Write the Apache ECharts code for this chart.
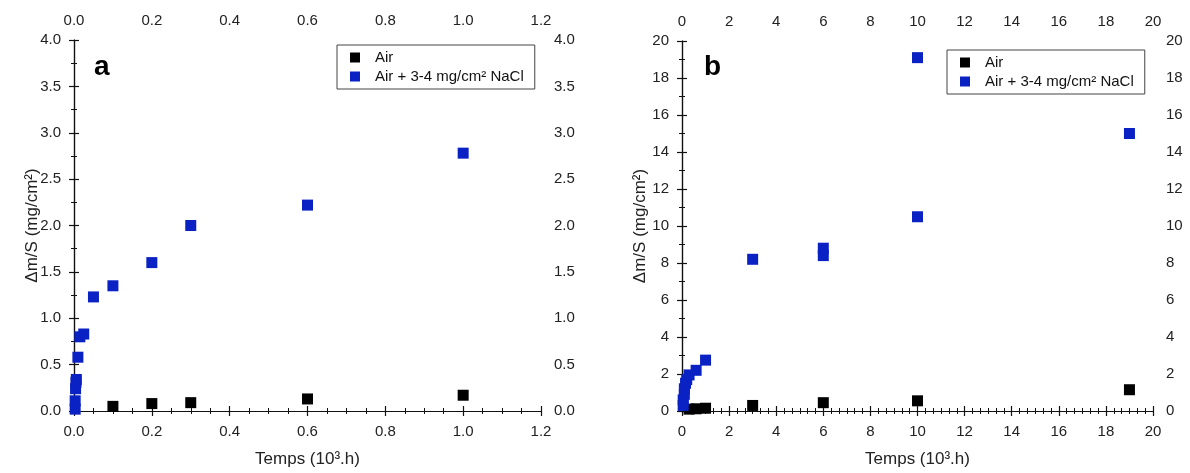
<!DOCTYPE html>
<html><head><meta charset="utf-8">
<script src="https://cdn.jsdelivr.net/npm/echarts@6/dist/echarts.min.js"></script>
<style>html,body{margin:0;background:#fff}#c{width:1190px;height:473px}</style>
</head><body><div id="c"></div>
<script>
// Panel a
const airA = [[0.1,0.05],[0.2,0.08],[0.3,0.09],[0.6,0.13],[1.0,0.17]];
const naclA = [[0.003,0.02],[0.003,0.11],[0.004,0.24],[0.005,0.31],[0.006,0.34],[0.01,0.58],[0.015,0.80],[0.025,0.83],[0.05,1.23],[0.1,1.35],[0.2,1.60],[0.3,2.00],[0.6,2.22],[1.0,2.78]];
// Panel b
const airB = [[0.3,0.10],[0.6,0.12],[1.0,0.15],[3,0.30],[6,0.45],[10,0.55],[19,1.15]];
const naclB = [[0.05,0.3],[0.05,0.6],[0.1,0.9],[0.1,1.2],[0.15,1.5],[0.2,1.7],[0.3,1.95],[0.6,2.2],[1.0,2.75],[3,8.2],[6,8.4],[6,8.8],[10,10.5],[10,19.1],[19,15.0]];
const seriesNames = ['Air', 'Air + 3-4 mg/cm² NaCl'];
const xTitle = 'Temps (10³.h)';
const yTitle = 'Δm/S (mg/cm²)';

const FONT = "'Liberation Sans', Arial, sans-serif";
const BLUE = '#0a22c4';
const lineS = {show:true, lineStyle:{color:'#111', width:1.2}};
const tickS = {show:true, length:5, inside:false, lineStyle:{color:'#111', width:1.2}};
function lab(fmt, margin){ return {show:true, color:'#222', fontSize:15, fontFamily:FONT, margin:margin, formatter:fmt}; }
const f1 = v => v.toFixed(1);
const f0 = v => String(Math.round(v));

function xAx(grid, pos, max, interval, minorN, fmt, named){
  const a = {type:'value', gridIndex:grid, position:pos, min:0, max:max, interval:interval,
    axisLine:lineS, axisTick:tickS, minorTick:{show:true, splitNumber:minorN, length:3, lineStyle:{color:'#111', width:1}},
    splitLine:{show:false}, minorSplitLine:{show:false}, axisLabel:lab(fmt, pos==='top'?12:13)};
  if(named){ a.name = xTitle; a.nameLocation='middle'; a.nameGap=40; a.nameMoveOverlap=false; a.nameTextStyle={fontSize:17, color:'#222', fontFamily:FONT}; }
  return a;
}
function yAx(grid, pos, max, interval, fmt, named){
  const a = {type:'value', gridIndex:grid, position:pos, min:0, max:max, interval:interval,
    axisLine:lineS, axisTick:tickS, minorTick:{show:true, splitNumber:2, length:3, lineStyle:{color:'#111', width:1}},
    splitLine:{show:false}, minorSplitLine:{show:false}, axisLabel:lab(fmt, 13)};
  if(named){ a.name = yTitle; a.nameLocation='middle'; a.nameRotate=90; a.nameGap=named; a.nameMoveOverlap=false; a.nameTextStyle={fontSize:17, color:'#222', fontFamily:FONT}; }
  return a;
}
function legend(left, top){
  return {left:left, top:top, orient:'vertical', selectedMode:false, data:seriesNames,
    itemWidth:10, itemHeight:10, itemGap:4, icon:'rect',
    backgroundColor:'#fff', borderColor:'#444', borderWidth:1, borderRadius:0, padding:[5,11,5,13],
    formatter: n => '{t|' + n + '}',
    textStyle:{fontSize:15, color:'#111', fontFamily:FONT, rich:{t:{fontSize:15, lineHeight:16, fontFamily:FONT, color:'#111', padding:[0,0,0,10]}}}};
}
function sc(name, data, xi, yi, color){
  return {name:name, type:'scatter', xAxisIndex:xi, yAxisIndex:yi, data:data, symbol:'rect', symbolSize:11,
    itemStyle:{color:color, opacity:1}, z:3};
}

const chart = echarts.init(document.getElementById('c'), null, {renderer:'canvas'});
chart.setOption({
  animation:false,
  backgroundColor:'#fff',
  grid:[
    {left:74, top:40, width:467, height:371, containLabel:false},
    {left:682, top:41, width:471, height:371, containLabel:false}
  ],
  xAxis:[
    xAx(0,'bottom',1.2,0.2,4,f1,true),
    xAx(0,'top',1.2,0.2,4,f1,false),
    xAx(1,'bottom',20,2,6,f0,true),
    xAx(1,'top',20,2,6,f0,false)
  ],
  yAxis:[
    yAx(0,'left',4,0.5,f1,33),
    yAx(0,'right',4,0.5,f1,false),
    yAx(1,'left',20,2,f0,33),
    yAx(1,'right',20,2,f0,false)
  ],
  legend:[legend(337,45), legend(947,50)],
  series:[
    sc(seriesNames[0], airA, 0, 0, '#000'),
    sc(seriesNames[1], naclA, 0, 0, BLUE),
    sc(seriesNames[0], airB, 2, 2, '#000'),
    sc(seriesNames[1], naclB, 2, 2, BLUE)
  ],
  graphic:[
    {type:'text', left:94, top:53, style:{text:'a', fontSize:28, fontWeight:'bold', fontFamily:FONT, fill:'#000'}},
    {type:'text', left:704, top:53, style:{text:'b', fontSize:28, fontWeight:'bold', fontFamily:FONT, fill:'#000'}}
  ]
});
</script></body></html>
